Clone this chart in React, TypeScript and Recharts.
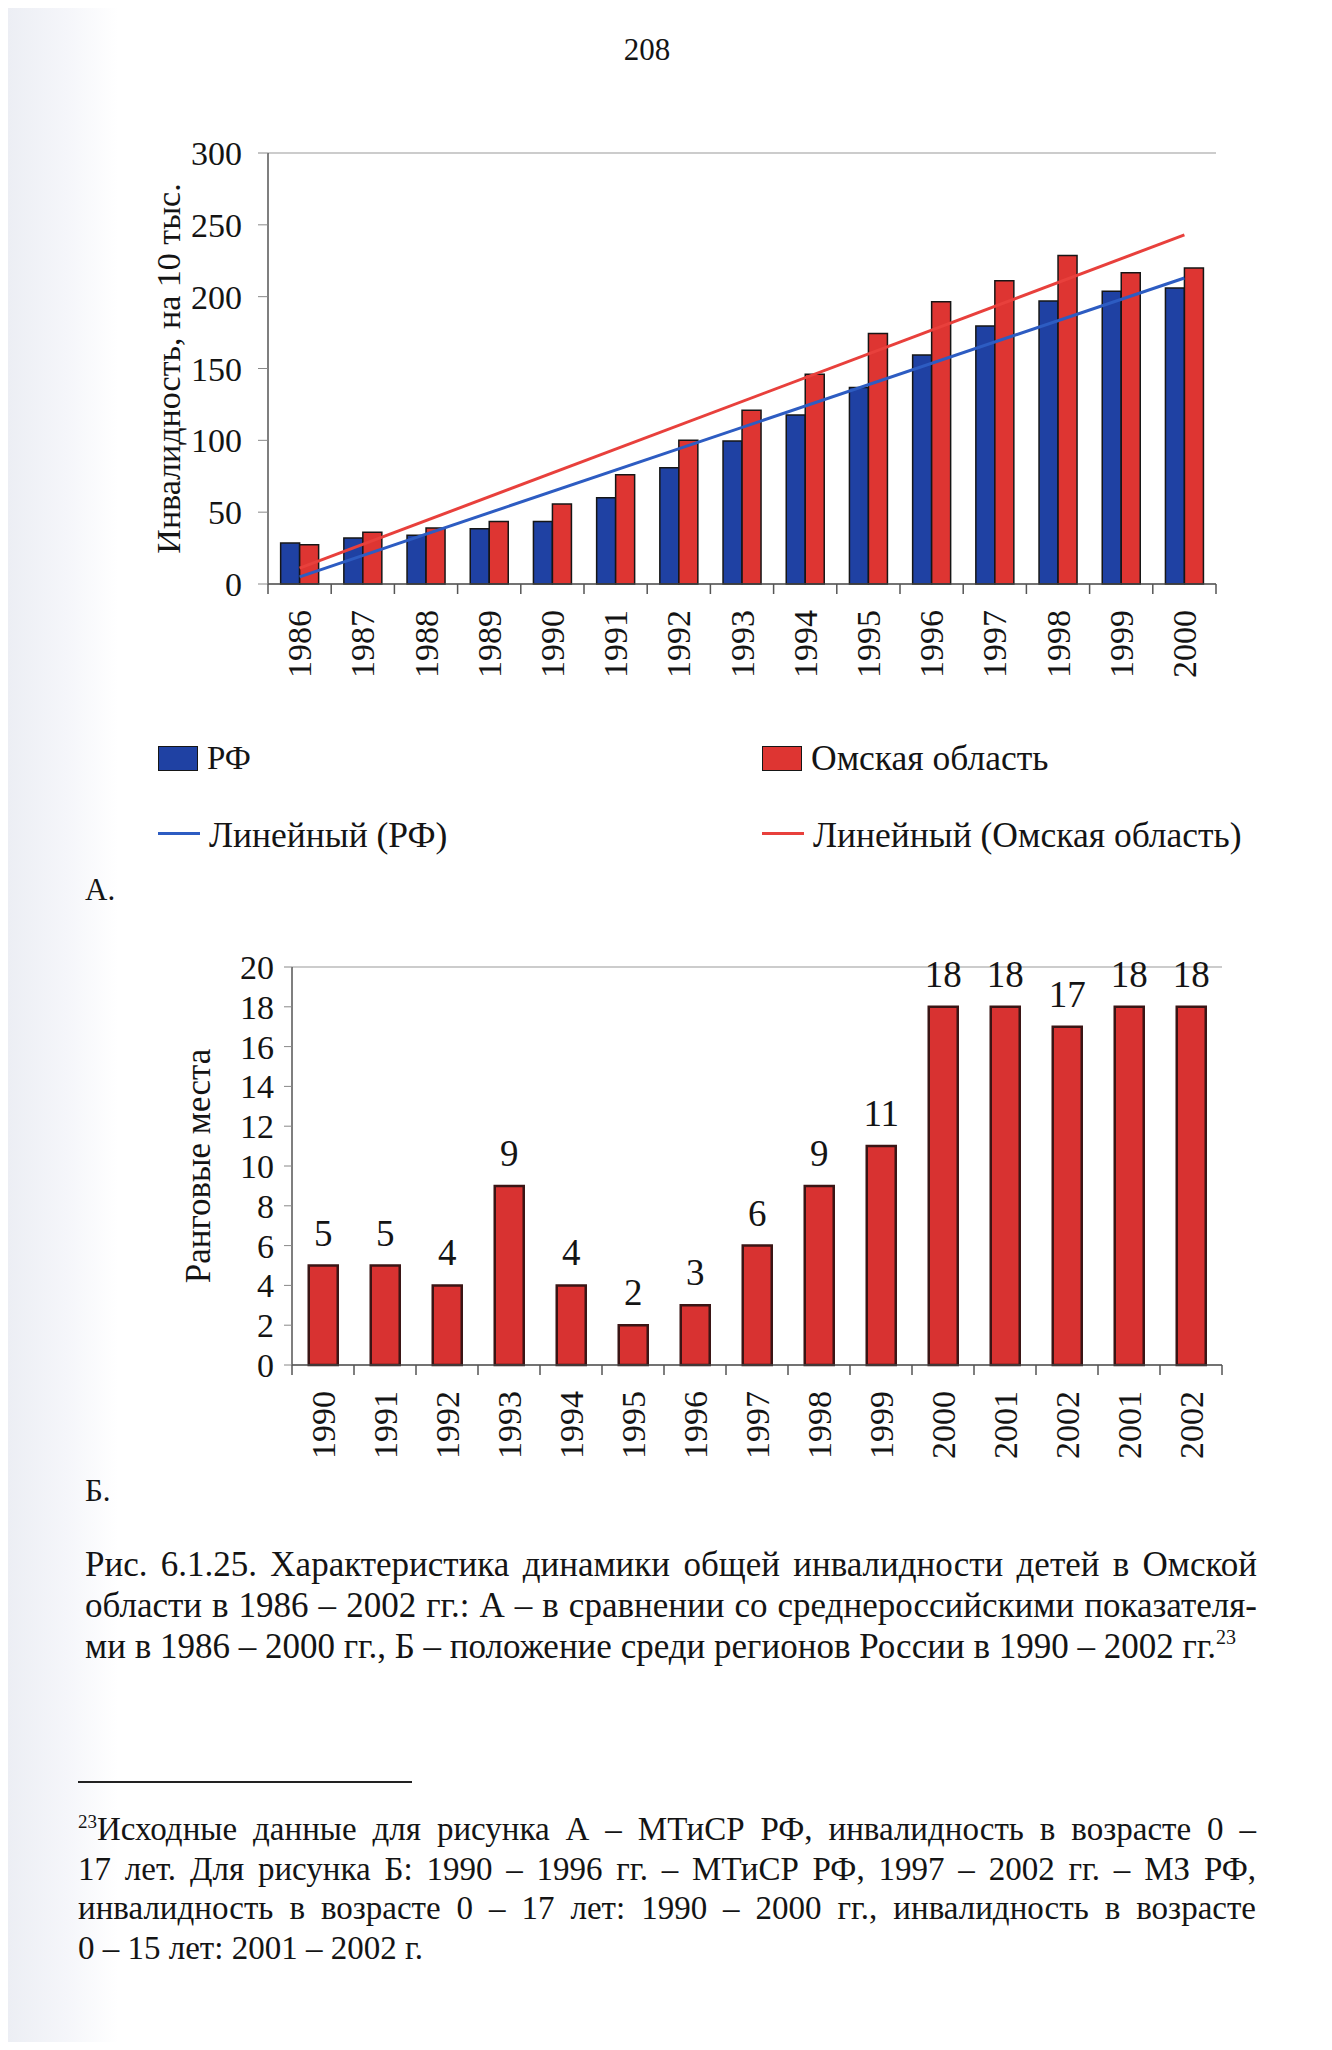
import React from "react";
import {
  Bar,
  ComposedChart,
  LabelList,
  Line,
  ReferenceLine,
  XAxis,
  YAxis
} from "recharts";

// --- chart A: disability per 10 000 children, RF vs Omsk region
const yearsA = ["1986", "1987", "1988", "1989", "1990", "1991", "1992", "1993", "1994", "1995", "1996", "1997", "1998", "1999", "2000"];
const rfValues = [28.5, 32, 34, 38.5, 43.5, 60, 81, 99.6, 117.7, 136.7, 159.4, 179.5, 197, 203.8, 206];
const omskValues = [27.3, 36, 39, 43.5, 55.6, 76, 100, 121, 146, 174.4, 196.4, 211, 228.6, 216.6, 220];
// trend lines, read at the first and last year
const rfTrend = [5, 213];
const omskTrend = [11, 243];
const ticksA = [0, 50, 100, 150, 200, 250, 300];

// --- chart B: rank among Russian regions
const yearsB = ["1990", "1991", "1992", "1993", "1994", "1995", "1996", "1997", "1998", "1999", "2000", "2001", "2002", "2001", "2002"];
const ranks = [5, 5, 4, 9, 4, 2, 3, 6, 9, 11, 18, 18, 17, 18, 18];
const ticksB = [0, 2, 4, 6, 8, 10, 12, 14, 16, 18, 20];

const FONT = '"Liberation Serif", "Times New Roman", serif';
const INK = "#141414";
const BLUE = "#1f41a3";
const RED = "#de3532";
const BLUE_LINE = "#2d5cc2";
const RED_LINE = "#e8403c";
const FRAME = "#9a9a9a";

const W = 1316;

const last = yearsA.length - 1;
const dataA = yearsA.map((year, i) => ({
  year,
  rf: rfValues[i],
  omsk: omskValues[i],
  rfTrend: i === 0 ? rfTrend[0] : i === last ? rfTrend[1] : null,
  omskTrend: i === 0 ? omskTrend[0] : i === last ? omskTrend[1] : null
}));

const dataB = yearsB.map((year, i) => ({ key: String(i), year, rank: ranks[i] }));

const legendA = [
  { name: "РФ", color: BLUE, kind: "bar" },
  { name: "Омская область", color: RED, kind: "bar" },
  { name: "Линейный (РФ)", color: BLUE_LINE, kind: "line" },
  { name: "Линейный (Омская область)", color: RED_LINE, kind: "line" }
];

function YearTick(props: any) {
  const { x, y, index, half, labels } = props;
  const ty = y + 26;
  return (
    <g>
      <line x1={x - half} y1={y} x2={x - half} y2={y + 10} stroke="#555" strokeWidth={1.5} />
      {index === labels.length - 1 && (
        <line x1={x + half} y1={y} x2={x + half} y2={y + 10} stroke="#555" strokeWidth={1.5} />
      )}
      <text
        x={x}
        y={ty}
        transform={`rotate(-90 ${x} ${ty})`}
        textAnchor="end"
        dominantBaseline="central"
        fontSize={34}
        fontFamily={FONT}
        fill={INK}
      >
        {labels[index]}
      </text>
    </g>
  );
}

function axisTitle(text: string, x: number, size: number) {
  return {
    content: ({ viewBox }: any) => {
      const cy = viewBox.y + viewBox.height / 2;
      return (
        <text
          x={x}
          y={cy}
          transform={`rotate(-90 ${x} ${cy})`}
          textAnchor="middle"
          dominantBaseline="central"
          fontSize={size}
          fontFamily={FONT}
          fill={INK}
        >
          {text}
        </text>
      );
    }
  };
}

function ChartA() {
  const left = 260;
  const right = 108;
  const half = (W - left - right) / yearsA.length / 2;
  return (
    <ComposedChart
      width={W}
      height={700}
      data={dataA}
      margin={{ top: 145, right, left: 0, bottom: 0 }}
      barCategoryGap="20%"
      barGap={0}
    >
      <XAxis
        dataKey="year"
        interval={0}
        height={124}
        tickSize={0}
        tickMargin={0}
        axisLine={{ stroke: "#444", strokeWidth: 1.5 }}
        tick={<YearTick half={half} labels={yearsA} />}
      />
      <YAxis
        yAxisId="left"
        width={left}
        domain={[0, 300]}
        ticks={ticksA}
        interval={0}
        tickSize={10}
        tickMargin={16}
        axisLine={{ stroke: "#555", strokeWidth: 1.5 }}
        tickLine={{ stroke: "#888" }}
        tick={{ fontSize: 34, fontFamily: FONT, fill: INK }}
        label={axisTitle("Инвалидность, на 10 тыс.", 160, 34)}
      />
      <YAxis
        yAxisId="frame"
        orientation="right"
        width={0}
        domain={[0, 300]}
        tick={false}
        tickLine={false}
        axisLine={{ stroke: FRAME }}
      />
      <ReferenceLine yAxisId="left" y={300} stroke={FRAME} strokeWidth={1.2} />
      <Bar yAxisId="left" dataKey="rf" fill={BLUE} stroke="#161616" strokeWidth={1.5} isAnimationActive={false} />
      <Bar yAxisId="left" dataKey="omsk" fill={RED} stroke="#161616" strokeWidth={1.5} isAnimationActive={false} />
      <Line yAxisId="left" dataKey="rfTrend" stroke={BLUE_LINE} strokeWidth={3} dot={false} connectNulls isAnimationActive={false} />
      <Line yAxisId="left" dataKey="omskTrend" stroke={RED_LINE} strokeWidth={3} dot={false} connectNulls isAnimationActive={false} />
    </ComposedChart>
  );
}

function ChartB() {
  const left = 284;
  const right = 102;
  const half = (W - left - right) / yearsB.length / 2;
  return (
    <ComposedChart
      width={W}
      height={600}
      data={dataB}
      margin={{ top: 99, right, left: 0, bottom: 0 }}
      barCategoryGap="27%"
    >
      <XAxis
        dataKey="key"
        interval={0}
        height={103}
        tickSize={0}
        tickMargin={0}
        axisLine={{ stroke: "#444", strokeWidth: 1.5 }}
        tick={<YearTick half={half} labels={yearsB} />}
      />
      <YAxis
        yAxisId="left"
        width={left}
        domain={[0, 20]}
        ticks={ticksB}
        interval={0}
        tickSize={8}
        tickMargin={10}
        axisLine={{ stroke: "#555", strokeWidth: 1.5 }}
        tickLine={{ stroke: "#888" }}
        tick={{ fontSize: 34, fontFamily: FONT, fill: INK }}
        label={axisTitle("Ранговые места", 190, 35)}
      />
      <YAxis
        yAxisId="frame"
        orientation="right"
        width={0}
        domain={[0, 20]}
        tick={false}
        tickLine={false}
        axisLine={{ stroke: FRAME }}
      />
      <ReferenceLine yAxisId="left" y={20} stroke={FRAME} strokeWidth={1.2} />
      <Bar yAxisId="left" dataKey="rank" fill="#d83231" stroke="#3a1515" strokeWidth={2.5} isAnimationActive={false}>
        <LabelList dataKey="rank" position="top" offset={20} fontSize={37} fontFamily={FONT} fill={INK} />
      </Bar>
    </ComposedChart>
  );
}

function LegendA() {
  const cols = [150, 754];
  const rows = [750, 827];
  return (
    <>
      {legendA.map((item, i) => {
        const x = cols[i % 2];
        const y = rows[Math.floor(i / 2)];
        return (
          <div
            key={item.name}
            style={{ position: "absolute", left: x, top: y - 22, height: 44, display: "flex", alignItems: "center", whiteSpace: "nowrap" }}
          >
            {item.kind === "bar" ? (
              <span style={{ width: 40, height: 25, background: item.color, border: "1.5px solid #161616", boxSizing: "border-box" }} />
            ) : (
              <span style={{ width: 42, height: 3, background: item.color, marginTop: -4 }} />
            )}
            <span style={{ marginLeft: 9, fontSize: i === 0 ? 33 : 35.5, color: INK }}>{item.name}</span>
          </div>
        );
      })}
    </>
  );
}

const justified: React.CSSProperties = { textAlign: "justify", textAlignLast: "justify", whiteSpace: "nowrap" };
const supStyle: React.CSSProperties = { fontSize: 20, lineHeight: 0, verticalAlign: "baseline", position: "relative", top: -14 };

export default function App() {
  return (
    <div
      style={{
        position: "relative",
        width: W,
        height: 2034,
        fontFamily: FONT,
        color: INK,
        background: "linear-gradient(90deg, #eceef4 0px, #f5f6fa 60px, #ffffff 110px)"
      }}
    >
      <div style={{ position: "absolute", left: 589, width: 100, top: 24, textAlign: "center", fontSize: 31 }}>208</div>

      <div style={{ position: "absolute", left: 0, top: 0 }}>
        <ChartA />
      </div>
      <LegendA />
      <div style={{ position: "absolute", left: 77, top: 864, fontSize: 31 }}>А.</div>

      <div style={{ position: "absolute", left: 0, top: 860 }}>
        <ChartB />
      </div>
      <div style={{ position: "absolute", left: 77, top: 1465, fontSize: 31 }}>Б.</div>

      <div style={{ position: "absolute", left: 77, top: 1536, width: 1172, fontSize: 35, lineHeight: "41px" }}>
        <div style={justified}>Рис. 6.1.25. Характеристика динамики общей инвалидности детей в Омской</div>
        <div style={justified}>области в 1986 – 2002 гг.: А – в сравнении со среднероссийскими показателя-</div>
        <div style={{ whiteSpace: "nowrap" }}>
          ми в 1986 – 2000 гг., Б – положение среди регионов России в 1990 – 2002 гг.
          <span style={supStyle}>23</span>
        </div>
      </div>

      <div style={{ position: "absolute", left: 70, top: 1773, width: 334, height: 2, background: "#222" }} />

      <div style={{ position: "absolute", left: 70, top: 1802, width: 1178, fontSize: 33, lineHeight: "39.5px" }}>
        <div style={justified}>
          <span style={{ ...supStyle, fontSize: 19, top: -12 }}>23</span>Исходные данные для рисунка А – МТиСР РФ, инвалидность в возрасте 0 –
        </div>
        <div style={justified}>17 лет. Для рисунка Б: 1990 – 1996 гг. – МТиСР РФ, 1997 – 2002 гг. – МЗ РФ,</div>
        <div style={justified}>инвалидность в возрасте 0 – 17 лет: 1990 – 2000 гг., инвалидность в возрасте</div>
        <div style={{ whiteSpace: "nowrap" }}>0 – 15 лет: 2001 – 2002 г.</div>
      </div>
    </div>
  );
}
